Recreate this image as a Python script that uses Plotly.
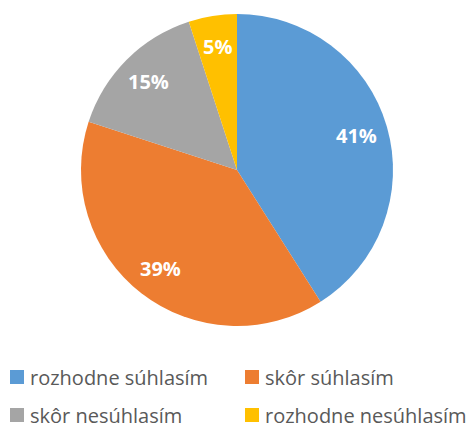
import math
import plotly.graph_objects as go

categories = ["rozhodne súhlasím", "skôr súhlasím", "skôr nesúhlasím", "rozhodne nesúhlasím"]
values = [41, 39, 15, 5]
colors = ["#5B9BD5", "#ED7D31", "#A5A5A5", "#FFC000"]

W, H = 474, 429
cx, cy, r = 237, 170, 156

fig = go.Figure(go.Pie(
    labels=categories,
    values=values,
    marker=dict(colors=colors, line=dict(color="white", width=0)),
    sort=False,
    direction="clockwise",
    rotation=0,
    textinfo="none",
    showlegend=False,
    domain=dict(x=[(cx - r) / W, (cx + r) / W], y=[(H - cy - r) / H, (H - cy + r) / H]),
    hoverinfo="label+percent",
))

# data labels placed along each slice bisector, at ~0.8 of the radius
total = sum(values)
cum = 0
for v in values:
    mid = (cum + v / 2) / total * 2 * math.pi
    cum += v
    lx = cx + 0.8 * r * math.sin(mid)
    ly = cy - 0.8 * r * math.cos(mid)
    fig.add_annotation(
        x=lx / W, y=(H - ly) / H, xref="paper", yref="paper",
        xanchor="center", yanchor="middle",
        text=f"<b>{round(v / total * 100)}%</b>", showarrow=False,
        font=dict(family="Open Sans", size=20, color="white"),
    )

# legend (2 columns x 2 rows), laid out like the original
col_x = [10, 245]
row_y = [377, 415]
sq = 14
for i, (name, col) in enumerate(zip(categories, colors)):
    x0 = col_x[i % 2]
    yc = row_y[i // 2]
    fig.add_shape(
        type="rect", xref="paper", yref="paper",
        x0=x0 / W, x1=(x0 + sq) / W,
        y0=(H - yc - sq / 2) / H, y1=(H - yc + sq / 2) / H,
        fillcolor=col, line=dict(width=0),
    )
    fig.add_annotation(
        x=(x0 + 19) / W, y=(H - yc) / H, xref="paper", yref="paper",
        xanchor="left", yanchor="middle", text=name, showarrow=False,
        borderpad=0,
        font=dict(family="Open Sans", size=20, color="#595959"),
    )

fig.update_layout(
    width=W, height=H,
    margin=dict(l=0, r=0, t=0, b=0, autoexpand=False),
    paper_bgcolor="white",
    font=dict(family="Open Sans", color="#595959"),
    showlegend=False,
)

fig.write_html("out.html", config={"displayModeBar": False},
               post_script="document.body.style.margin='0';")
